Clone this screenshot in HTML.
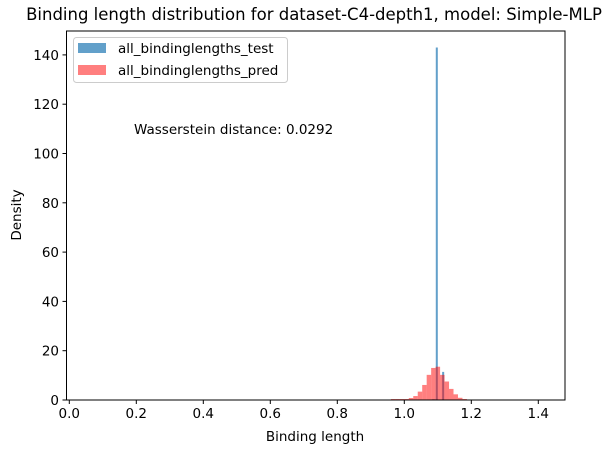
<!DOCTYPE html>
<html><head><meta charset="utf-8"><style>
body{margin:0;background:#fff;}
svg{display:block;font-family:"DejaVu Sans","Liberation Sans",sans-serif;}
</style></head><body>
<svg id="chart" width="615" height="453" viewBox="0 0 615 453">
<text x="314" y="20" font-size="16.5" text-anchor="middle" fill="#000">Binding length distribution for dataset-C4-depth1, model: Simple-MLP</text>
<g id="bars"></g>
<g id="axes"></g>
<rect x="66.5" y="31" width="498.5" height="369" fill="none" stroke="#000" stroke-width="1"/>
<text x="134" y="134" font-size="13.5" fill="#000">Wasserstein distance: 0.0292</text>
<g>
<rect x="73.5" y="37.5" width="214" height="45" rx="3" fill="#fff" fill-opacity="0.8" stroke="#ccc"/>
<rect x="78" y="43" width="28" height="10" fill="#1f77b4" fill-opacity="0.7"/>
<text x="118" y="53" font-size="13.5">all_bindinglengths_test</text>
<rect x="78" y="65" width="28" height="10" fill="#ff0000" fill-opacity="0.5"/>
<text x="118" y="75" font-size="13.5">all_bindinglengths_pred</text>
</g>
<text x="315" y="441" font-size="13.5" text-anchor="middle">Binding length</text>
<text transform="translate(21,215) rotate(-90)" font-size="13.5" text-anchor="middle">Density</text>
</svg>
<script>
const predBinStart = 0.960;
const predBinWidth = 0.01335;
const predDensities = [0.4,0.4,0.4,0.4,0.8,1.6,3.4,6.1,10.2,13,13.5,10.2,7.5,4.5,2.3,0.9,0.4];
const testBinEdges = [1.082, 1.087, 1.094, 1.113];
const testBinWidth = 0.006;
const testDensities = [0.3, 0.3, 143, 11.4];
const xTicks = [0.0,0.2,0.4,0.6,0.8,1.0,1.2,1.4];
const xTickLabels = ["0.0","0.2","0.4","0.6","0.8","1.0","1.2","1.4"];
const yTicks = [0,20,40,60,80,100,120,140];
const yTickLabels = ["0","20","40","60","80","100","120","140"];

const NS = "http://www.w3.org/2000/svg";
function xs(v){ return 69.3 + v * 335; }
function ys(v){ return 400 - v * 2.465; }
const bars = document.getElementById('bars');
const axes = document.getElementById('axes');

testDensities.forEach((d,i)=>{
  const r = document.createElementNS(NS,'rect');
  const x0 = xs(testBinEdges[i]), x1 = xs(testBinEdges[i]+testBinWidth);
  r.setAttribute('x', x0); r.setAttribute('width', x1-x0);
  r.setAttribute('y', ys(d)); r.setAttribute('height', ys(0)-ys(d));
  r.setAttribute('fill','#1f77b4'); r.setAttribute('fill-opacity','0.7');
  
  
  bars.appendChild(r);
});
predDensities.forEach((d,i)=>{
  const r = document.createElementNS(NS,'rect');
  const x0 = xs(predBinStart + i*predBinWidth), x1 = xs(predBinStart + (i+1)*predBinWidth);
  r.setAttribute('x', x0); r.setAttribute('width', x1-x0);
  r.setAttribute('y', ys(d)); r.setAttribute('height', ys(0)-ys(d));
  r.setAttribute('fill','#ff0000'); r.setAttribute('fill-opacity','0.5');
  
  
  bars.appendChild(r);
});
xTicks.forEach((v,i)=>{
  const l = document.createElementNS(NS,'line');
  l.setAttribute('x1', xs(v)); l.setAttribute('x2', xs(v));
  l.setAttribute('y1', 400); l.setAttribute('y2', 404); l.setAttribute('stroke','#000');
  
  
  axes.appendChild(l);
  const t = document.createElementNS(NS,'text');
  t.setAttribute('x', xs(v)); t.setAttribute('y', 418);
  t.setAttribute('font-size','13.5'); t.setAttribute('text-anchor','middle');
  t.textContent = xTickLabels[i];
  
  
  axes.appendChild(t);
});
yTicks.forEach((v,i)=>{
  const l = document.createElementNS(NS,'line');
  l.setAttribute('x1', 62.5); l.setAttribute('x2', 66.5);
  l.setAttribute('y1', ys(v)); l.setAttribute('y2', ys(v)); l.setAttribute('stroke','#000');
  
  
  axes.appendChild(l);
  const t = document.createElementNS(NS,'text');
  t.setAttribute('x', 59); t.setAttribute('y', ys(v)+5);
  t.setAttribute('font-size','13.5'); t.setAttribute('text-anchor','end');
  t.textContent = yTickLabels[i];
  
  
  axes.appendChild(t);
});
</script>
</body></html>
